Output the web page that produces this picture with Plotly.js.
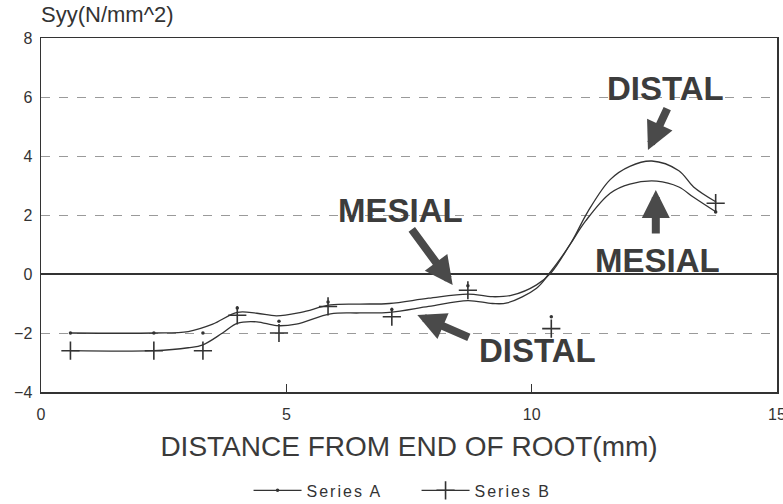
<!DOCTYPE html>
<html>
<head>
<meta charset="utf-8">
<script src="https://cdn.plot.ly/plotly-3.0.1.min.js"></script>
<style>
html,body{margin:0;padding:0;background:#fff;}
#chart{width:783px;height:504px;}
#chart .legendtext{letter-spacing:2px;}
#chart .legend .scrollbox{clip-path:none !important;}
</style>
</head>
<body>
<div id="chart"></div>
<script>
// Measured data points (markers)
const pointX = [0.6, 2.3, 3.3, 4.0, 4.85, 5.85, 7.15, 8.7, 10.4, 13.75];
const seriesA = [-2.0, -2.0, -2.0, -1.15, -1.6, -0.95, -1.2, -0.4, -1.45, 2.1];
const seriesB = [-2.6, -2.6, -2.6, -1.4, -2.0, -1.1, -1.45, -0.55, -1.85, 2.4];

// Fitted curves
const curveAX = [0.6, 2.3, 3.0, 3.5, 4.0, 4.4, 4.8, 5.3, 5.9, 6.5, 7.1, 7.9, 8.7, 9.2, 9.6, 10.1, 10.4, 10.8, 11.1, 11.6, 12.0, 12.55, 13.0, 13.3, 13.76];
const curveAY = [-2.0, -2.0, -1.95, -1.7, -1.3, -1.33, -1.42, -1.3, -1.05, -1.02, -1.0, -0.82, -0.68, -0.77, -0.72, -0.37, 0.05, 1.05, 1.8, 2.74, 3.05, 3.15, 2.95, 2.6, 2.1];
const curveBX = [0.6, 2.3, 3.0, 3.3, 3.7, 4.0, 4.4, 4.8, 5.2, 5.9, 6.5, 7.1, 7.9, 8.7, 9.2, 9.5, 10.1, 10.35, 10.8, 11.14, 11.6, 12.0, 12.45, 13.0, 13.3, 13.76];
const curveBY = [-2.6, -2.6, -2.5, -2.4, -2.0, -1.67, -1.62, -1.75, -1.7, -1.35, -1.32, -1.3, -1.1, -0.9, -1.0, -0.98, -0.48, 0.0, 1.05, 2.1, 3.2, 3.65, 3.83, 3.5, 2.95, 2.44];

const xTicks = [0, 5, 10, 15];
const yTicks = [-4, -2, 0, 2, 4, 6, 8];

const ink = '#333333';
const FONT = 'Liberation Sans, Arial, sans-serif';

const traces = [
  {x: curveAX, y: curveAY, mode: 'lines', line: {color: ink, width: 1.3, shape: 'spline', smoothing: 1}, showlegend: false, hoverinfo: 'skip'},
  {x: curveBX, y: curveBY, mode: 'lines', line: {color: ink, width: 1.3, shape: 'spline', smoothing: 1}, showlegend: false, hoverinfo: 'skip'},
  {x: pointX, y: seriesA, mode: 'markers', marker: {symbol: 'circle', size: 3.5, color: ink}, showlegend: false},
  {x: pointX, y: seriesB, mode: 'markers', marker: {symbol: 'cross-thin-open', size: 13, color: ink, line: {color: ink, width: 1.6}}, showlegend: false},
  {x: [null], y: [null], name: 'Series A', mode: 'lines+markers', line: {color: ink, width: 1.3}, marker: {symbol: 'circle', size: 3.5, color: ink}},
  {x: [null], y: [null], name: 'Series B', mode: 'lines+markers', line: {color: ink, width: 1.3}, marker: {symbol: 'cross-thin-open', size: 13, color: ink, line: {color: ink, width: 1.6}}}
];

const labelFont = {family: FONT, size: 33, color: '#3c3c3c', weight: 'bold'};
const arrowStyle = {showarrow: true, arrowhead: 2, arrowsize: 0.7, arrowwidth: 8, arrowcolor: '#4a4a4a', text: '', xref: 'x', yref: 'y', axref: 'pixel', ayref: 'pixel', standoff: 0, startstandoff: 0};

const layout = {
  width: 783, height: 504,
  margin: {l: 41, r: 6, t: 38, b: 112, autoexpand: false},
  paper_bgcolor: '#fff', plot_bgcolor: '#fff',
  font: {family: FONT, color: ink, size: 16},
  xaxis: {
    range: [0, 15], tickvals: xTicks, ticks: 'inside', ticklen: 8, tickcolor: ink,
    showgrid: false, zeroline: false, showline: true, mirror: true, linecolor: ink, linewidth: 1.5,
    tickfont: {size: 16, color: ink}, ticklabelstandoff: 7, ticklabeloverflow: 'allow',
    title: {text: 'DISTANCE FROM END OF ROOT(mm)', font: {size: 28, color: '#3a3a3a'}, standoff: 14}
  },
  yaxis: {
    range: [-4, 8], tickvals: yTicks, ticks: '', showgrid: true, gridcolor: '#9a9a9a', griddash: 'dash', gridwidth: 1,
    zeroline: true, zerolinecolor: ink, zerolinewidth: 1.3,
    showline: true, mirror: true, linecolor: ink, linewidth: 1.5,
    tickfont: {size: 16, color: ink}, ticklabelstandoff: 4
  },
  legend: {orientation: 'h', x: 0.282, xanchor: 'left', y: -0.278, yanchor: 'middle', itemwidth: 48, entrywidth: 105, entrywidthmode: 'pixels', font: {size: 16, color: ink}, bgcolor: 'rgba(0,0,0,0)'},
  annotations: [
    {text: 'Syy(N/mm^2)', xref: 'paper', yref: 'paper', x: -0.003, y: 1.025, xanchor: 'left', yanchor: 'bottom', showarrow: false, font: {size: 22, color: ink}},
    {text: 'DISTAL', x: 12.72, y: 6.3, xref: 'x', yref: 'y', showarrow: false, font: labelFont},
    {text: 'MESIAL', x: 7.32, y: 2.15, xref: 'x', yref: 'y', showarrow: false, font: labelFont},
    {text: 'MESIAL', x: 12.57, y: 0.47, xref: 'x', yref: 'y', showarrow: false, font: labelFont},
    {text: 'DISTAL', x: 10.12, y: -2.58, xref: 'x', yref: 'y', showarrow: false, font: labelFont},
    Object.assign({x: 12.37, y: 4.2, ax: 20, ay: -43}, arrowStyle),
    Object.assign({x: 8.39, y: -0.37, ax: -42, ay: -57}, arrowStyle),
    Object.assign({x: 12.53, y: 2.85, ax: 0, ay: 45}, arrowStyle),
    Object.assign({x: 7.67, y: -1.39, ax: 53, ay: 23}, arrowStyle)
  ]
};

Plotly.newPlot('chart', traces, layout, {displayModeBar: false, staticPlot: true});
</script>
</body>
</html>
